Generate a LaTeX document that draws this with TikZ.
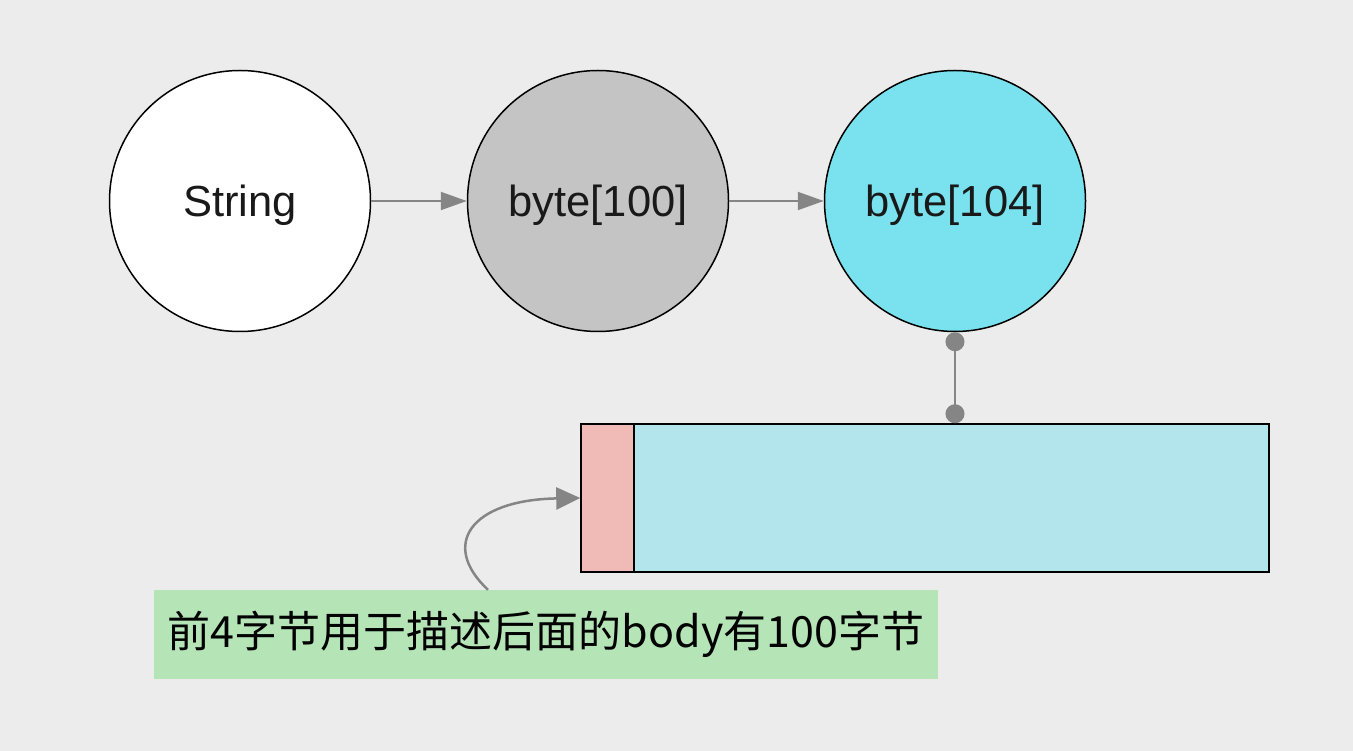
\documentclass[tikz,border=0pt]{standalone}
\usepackage{fontspec}
\setmainfont{Liberation Sans}
\newfontfamily\cjk{Noto Sans CJK SC}
\usetikzlibrary{arrows.meta,calc}
\definecolor{bg}{HTML}{ECECEC}
\definecolor{grayfill}{HTML}{C4C4C4}
\definecolor{cyanfill}{HTML}{7AE1EF}
\definecolor{buffill}{HTML}{B2E6EC}
\definecolor{headfill}{HTML}{F0BBB6}
\definecolor{notefill}{HTML}{B5E4B7}
\definecolor{linkgray}{HTML}{858585}
\newcommand{\lowered}[1]{\raisebox{-4pt}[\height][\depth]{#1}}
\tikzset{
  obj/.style={circle,draw=black,line width=1.5pt,minimum size=261pt,inner sep=0pt,
    font=\fontsize{43.5}{50}\selectfont,text=black!90},
  link/.style={draw=linkgray,line width=2pt,-{Triangle[length=26pt,width=18pt]}},
  dotlink/.style={draw=linkgray,line width=2pt,{Circle[length=19pt]}-{Circle[length=19pt]}},
  boxpart/.style={draw=black,line width=1.5pt,inner sep=0pt},
}
\begin{document}
\begin{tikzpicture}[x=1pt,y=-1pt]
\fill[bg] (0,0) rectangle (1353,751);
\useasboundingbox (0,0) rectangle (1353,751);
\node[obj,fill=white] (s) at (240,201) {\lowered{String}};
\node[obj,fill=grayfill] (b1) at (598,201) {\lowered{byte[100]}};
\node[obj,fill=cyanfill] (b2) at (955,201) {\lowered{byte[104]}};
\draw[link] (s) -- (b1);
\draw[link] (b1) -- (b2);
\node[boxpart,fill=buffill,minimum width=688pt,minimum height=148pt] (buf) at (925,498) {};
\node[boxpart,fill=headfill,minimum width=53pt,minimum height=148pt] (head) at (607.5,498) {};
\draw[dotlink] (b2.south) -- (b2.south |- buf.north);
\node[fill=notefill,minimum width=784pt,minimum height=89pt,inner sep=0pt,
  font=\cjk\fontsize{43}{50}\selectfont] (note) at (546,634.5) {前4字节用于描述后面的body有100字节};
\coordinate (cstart) at ([xshift=-58pt]note.north);
\draw[draw=linkgray,line width=2.5pt,-{Triangle[length=24pt,width=22pt]}]
  (cstart) .. controls (440,545) and (470,500) .. (head.west);
\end{tikzpicture}
\end{document}
